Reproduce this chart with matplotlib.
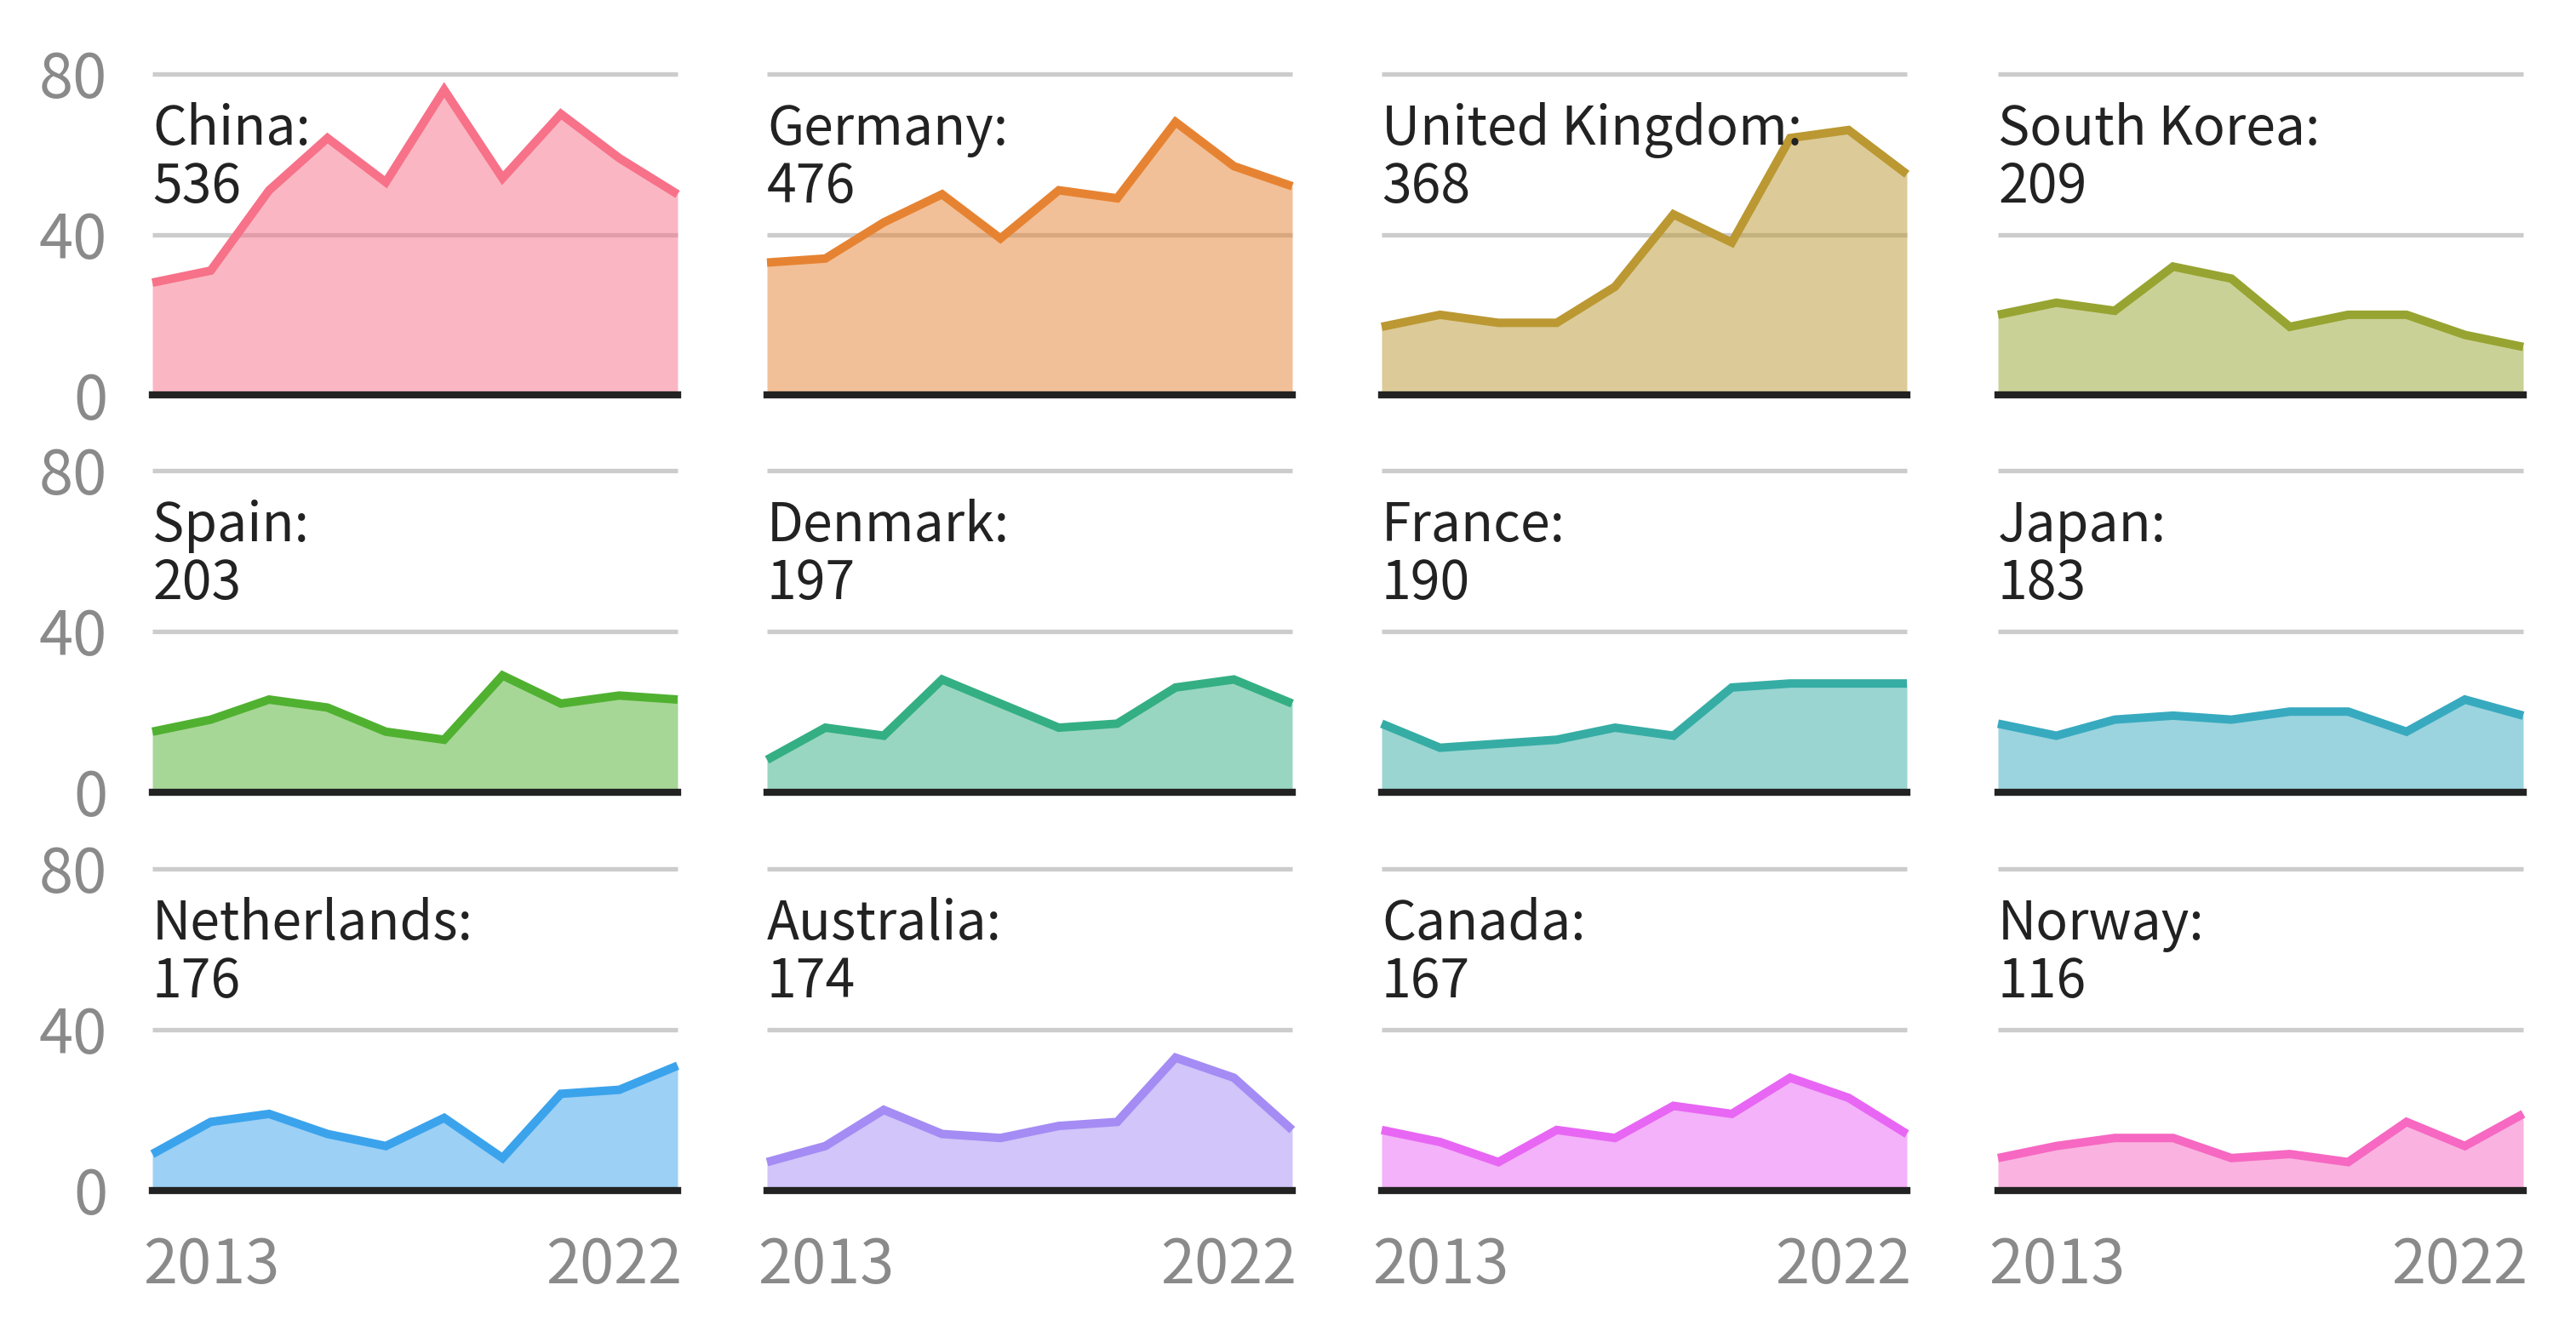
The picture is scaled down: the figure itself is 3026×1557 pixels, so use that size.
import matplotlib
matplotlib.use("Agg")
import matplotlib.pyplot as plt
import seaborn as sns

plt.rcParams['font.family'] = ['Noto Sans CJK KR', 'DejaVu Sans']

years = list(range(2013, 2023))
countries = ["China", "Germany", "United Kingdom", "South Korea",
             "Spain", "Denmark", "France", "Japan",
             "Netherlands", "Australia", "Canada", "Norway"]
totals = [536, 476, 368, 209, 203, 197, 190, 183, 176, 174, 167, 116]

china = [28, 31, 51, 64, 53, 76, 54, 70, 59, 50]
germany = [33, 34, 43, 50, 39, 51, 49, 68, 57, 52]
united_kingdom = [17, 20, 18, 18, 27, 45, 38, 64, 66, 55]
south_korea = [20, 23, 21, 32, 29, 17, 20, 20, 15, 12]
spain = [15, 18, 23, 21, 15, 13, 29, 22, 24, 23]
denmark = [8, 16, 14, 28, 22, 16, 17, 26, 28, 22]
france = [17, 11, 12, 13, 16, 14, 26, 27, 27, 27]
japan = [17, 14, 18, 19, 18, 20, 20, 15, 23, 19]
netherlands = [9, 17, 19, 14, 11, 18, 8, 24, 25, 31]
australia = [7, 11, 20, 14, 13, 16, 17, 33, 28, 15]
canada = [15, 12, 7, 15, 13, 21, 19, 28, 23, 14]
norway = [8, 11, 13, 13, 8, 9, 7, 17, 11, 19]

series = [china, germany, united_kingdom, south_korea, spain, denmark,
          france, japan, netherlands, australia, canada, norway]

y_ticks = [0, 40, 80]
x_tick_labels = ["2013", "2022"]

palette = sns.color_palette("husl", 12)

W, H = 3026, 1557
DPI = 200
fig = plt.figure(figsize=(W / DPI, H / DPI), dpi=DPI)
fig.patch.set_facecolor("white")

col_left = [179, 901, 1623, 2347]
ax_w = 617
row_top = [86.7, 553.0, 1021.0]
ax_h = 377.6

TICK_FS = 26
LABEL_FS = 22.5
tick_color = "#8a8a8a"
grid_color = "#cccccc"
px = 72.0 / DPI  # points per pixel

for i, (name, total, vals) in enumerate(zip(countries, totals, series)):
    r, c = divmod(i, 4)
    left = col_left[c] / W
    bottom = 1 - (row_top[r] + ax_h) / H
    ax = fig.add_axes([left, bottom, ax_w / W, ax_h / H])
    ax.set_xlim(years[0], years[-1])
    ax.set_ylim(0, 80)
    for s in ax.spines.values():
        s.set_visible(False)
    ax.set_facecolor("none")

    for g in y_ticks[1:]:
        ax.axhline(g, color=grid_color, lw=1.9, zorder=0, clip_on=False,
                   solid_capstyle="butt")

    col = palette[i]
    ax.fill_between(years, vals, 0, color=col, alpha=0.5, lw=0, zorder=1)
    ax.plot(years, vals, color=col, lw=3.6, zorder=2, solid_joinstyle="miter",
            solid_capstyle="butt", clip_on=False)
    ax.axhline(0, color="#222222", lw=3.0, zorder=3, clip_on=False,
               solid_capstyle="projecting")

    ax.text(0.0, 0.779, f"{name}:", transform=ax.transAxes, ha="left",
            va="baseline", fontsize=LABEL_FS, color="#222222", zorder=4)
    ax.text(0.0, 0.599, f"{total}", transform=ax.transAxes, ha="left",
            va="baseline", fontsize=LABEL_FS, color="#222222", zorder=4)

    ax.tick_params(length=0)
    ax.set_xticks([])
    if c == 0:
        ax.set_yticks(y_ticks)
        ax.set_yticklabels([str(t) for t in y_ticks], fontsize=TICK_FS,
                           color=tick_color, fontweight="light")
        ax.tick_params(axis="y", pad=19)
    else:
        ax.set_yticks([])

    if r == 2:
        ax.annotate(x_tick_labels[0], xy=(years[0], 0),
                    xycoords=("data", "axes fraction"),
                    xytext=(-11 * px, -52 * px), textcoords="offset points",
                    ha="left", va="top", fontsize=TICK_FS, color=tick_color,
                    fontweight="light", annotation_clip=False)
        ax.annotate(x_tick_labels[1], xy=(years[-1], 0),
                    xycoords=("data", "axes fraction"),
                    xytext=(5 * px, -52 * px), textcoords="offset points",
                    ha="right", va="top", fontsize=TICK_FS, color=tick_color,
                    fontweight="light", annotation_clip=False)

fig.savefig("out.png", dpi=DPI, facecolor="white")
